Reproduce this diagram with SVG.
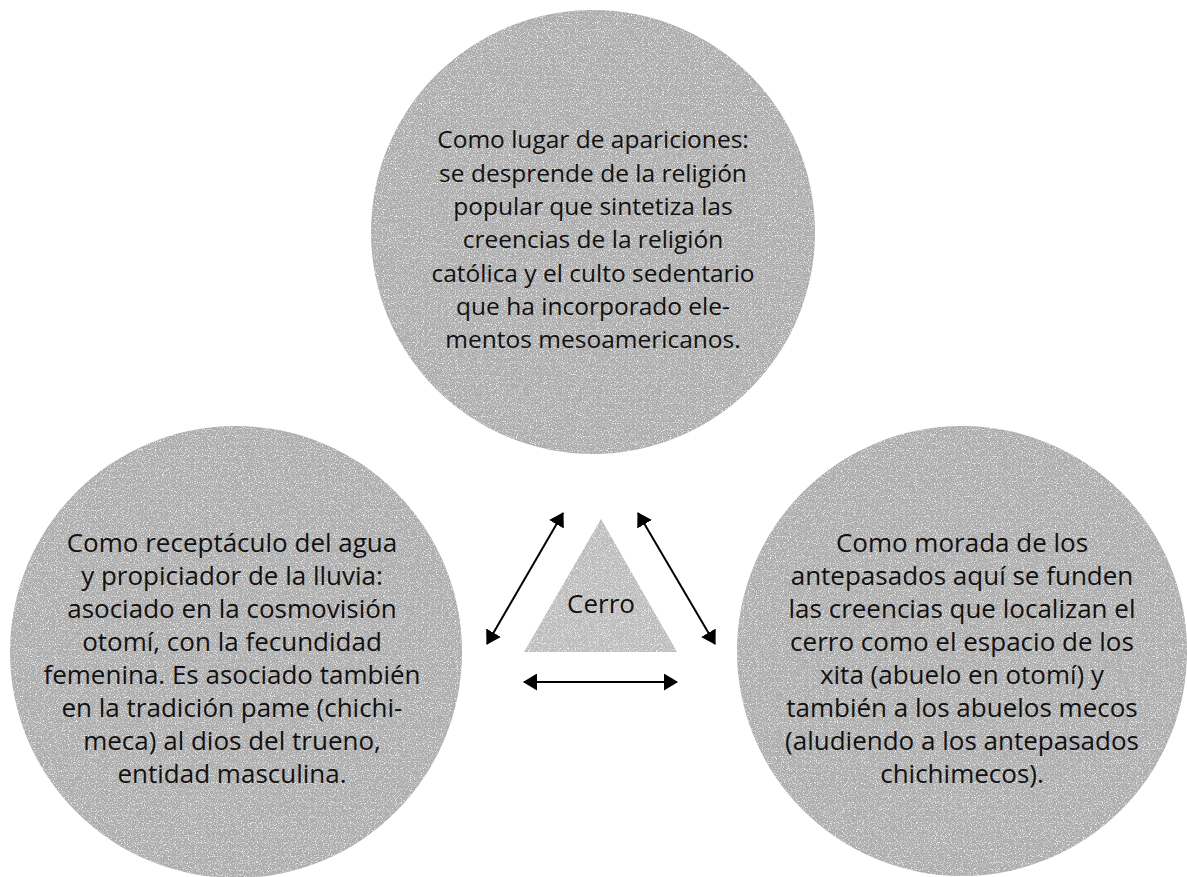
<svg xmlns="http://www.w3.org/2000/svg" width="1187" height="877" viewBox="0 0 1187 877">
<defs>
<style>
.t{font-family:"Open Sans","Noto Sans","Liberation Sans",sans-serif;font-size:24.5px;fill:#111;text-anchor:middle}
.b{font-size:26px}
.c{fill:#adadad}
.tri{fill:#bcbcbc}
.ar{stroke:#000;stroke-width:2;fill:none;marker-start:url(#ah);marker-end:url(#ah)}
</style>
<filter id="speck" x="0" y="0" width="1" height="1" color-interpolation-filters="sRGB">
<feTurbulence type="fractalNoise" baseFrequency="0.85" numOctaves="2" seed="7" result="n"/>
<feColorMatrix in="n" type="matrix" values="0 0 0 0 1 0 0 0 0 1 0 0 0 0 1 3 0 0 0 -1.5" result="w"/>
<feComposite in="w" in2="SourceAlpha" operator="in" result="wm"/>
<feMerge><feMergeNode in="SourceGraphic"/><feMergeNode in="wm"/></feMerge>
</filter>
<marker id="ah" viewBox="0 0 14 17" refX="13" refY="8.5" markerWidth="14" markerHeight="17" markerUnits="userSpaceOnUse" orient="auto-start-reverse">
<path d="M0,0 L14,8.5 L0,17 z" fill="#000"/>
</marker>
</defs>
<rect width="1187" height="877" fill="#fff"/>
<g id="node-top">
<circle class="c" cx="593" cy="232" r="222" filter="url(#speck)"/>
<text class="t" x="593" y="148">Como lugar de apariciones:</text>
<text class="t" x="593" y="181.5">se desprende de la religión</text>
<text class="t" x="593" y="215">popular que sintetiza las</text>
<text class="t" x="593" y="248">creencias de la religión</text>
<text class="t" x="593" y="281.5">católica y el culto sedentario</text>
<text class="t" x="593" y="315">que ha incorporado ele-</text>
<text class="t" x="593" y="348">mentos mesoamericanos.</text>
</g>
<g id="node-left">
<circle class="c" cx="236" cy="652" r="226" filter="url(#speck)"/>
<text class="t b" x="232" y="552">Como receptáculo del agua</text>
<text class="t b" x="232" y="585">y propiciador de la lluvia:</text>
<text class="t b" x="232" y="618">asociado en la cosmovisión</text>
<text class="t b" x="232" y="651">otomí, con la fecundidad</text>
<text class="t b" x="232" y="684">femenina. Es asociado también</text>
<text class="t b" x="232" y="717">en la tradición pame (chichi-</text>
<text class="t b" x="232" y="750">meca) al dios del trueno,</text>
<text class="t b" x="232" y="783">entidad masculina.</text>
</g>
<g id="node-right">
<circle class="c" cx="962" cy="651" r="225" filter="url(#speck)"/>
<text class="t b" x="962" y="552">Como morada de los</text>
<text class="t b" x="962" y="585">antepasados aquí se funden</text>
<text class="t b" x="962" y="618">las creencias que localizan el</text>
<text class="t b" x="962" y="651">cerro como el espacio de los</text>
<text class="t b" x="962" y="684">xita (abuelo en otomí) y</text>
<text class="t b" x="962" y="717">también a los abuelos mecos</text>
<text class="t b" x="962" y="750">(aludiendo a los antepasados</text>
<text class="t b" x="962" y="783">chichimecos).</text>
</g>
<g id="node-cerro">
<polygon class="tri" points="601,519 677,652 524,652" filter="url(#speck)"/>
<text class="t" x="601" y="613" style="font-size:26px">Cerro</text>
</g>
<g id="connectors">
<line class="ar" x1="563" y1="513" x2="487" y2="644"/>
<line class="ar" x1="638" y1="513" x2="715" y2="644"/>
<line class="ar" x1="524" y1="682" x2="677" y2="682"/>
</g>
</svg>
